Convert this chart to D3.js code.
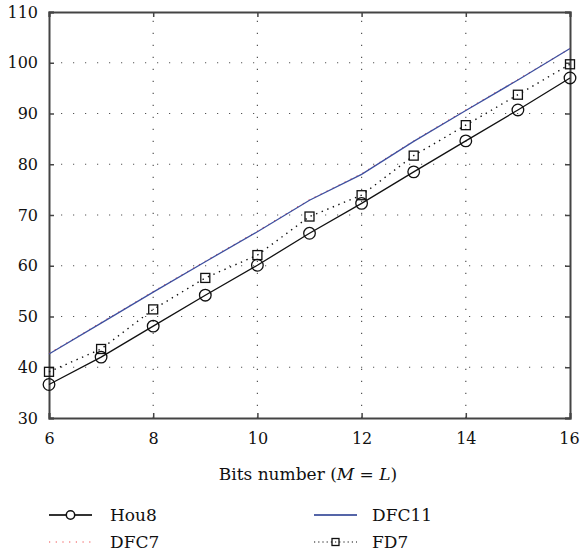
<!DOCTYPE html>
<html>
<head>
<meta charset="utf-8">
<script src="https://cdn.jsdelivr.net/npm/d3@7"></script>
<style>
  body { margin: 0; background: #fff; }
</style>
</head>
<body>
<svg id="chart" width="580" height="552"></svg>
<script>
const bits = [6, 7, 8, 9, 10, 11, 12, 13, 14, 15, 16];
const hou8 = [36.6, 42.0, 48.1, 54.2, 60.1, 66.4, 72.3, 78.5, 84.6, 90.7, 97.0];
const dfc7 = [42.7, 48.8, 54.9, 60.9, 66.8, 73.0, 78.1, 84.6, 90.7, 96.7, 102.8];
const dfc11 = [42.6, 48.7, 54.8, 60.8, 66.7, 72.9, 78.0, 84.5, 90.6, 96.6, 102.8];
const fd7 = [39.1, 43.6, 51.4, 57.6, 62.1, 69.7, 73.9, 81.7, 87.7, 93.7, 99.7];
const xTicks = [6, 8, 10, 12, 14, 16];
const yTicks = [30, 40, 50, 60, 70, 80, 90, 100, 110];

const svg = d3.select("#chart");
const plotLeft = 49, plotRight = 570, plotTop = 12, plotBottom = 418;
const serif = "'DejaVu Serif', 'Liberation Serif', 'Times New Roman', serif";

const x = d3.scaleLinear().domain([6, 16]).range([plotLeft, plotRight]);
const y = d3.scaleLinear().domain([30, 110]).range([plotBottom, plotTop]);

// grid
const grid = svg.append("g")
    .attr("stroke", "#555")
    .attr("stroke-width", 1.2)
    .attr("stroke-dasharray", "1.2,10.8");
grid.selectAll("line.v")
    .data(xTicks.slice(1, -1))
    .enter().append("line")
    .attr("x1", d => x(d)).attr("x2", d => x(d))
    .attr("y1", plotBottom).attr("y2", plotTop);
grid.selectAll("line.h")
    .data(yTicks.slice(1, -1))
    .enter().append("line")
    .attr("x1", plotLeft).attr("x2", plotRight)
    .attr("y1", d => y(d)).attr("y2", d => y(d));

// axes with inward ticks
const axisColor = "#444";
const bottomAxis = svg.append("g").attr("transform", `translate(0,${plotBottom})`)
    .call(d3.axisBottom(x).tickValues(xTicks).tickSize(-5).tickPadding(15));
const topAxis = svg.append("g").attr("transform", `translate(0,${plotTop})`)
    .call(d3.axisTop(x).tickValues(xTicks).tickSize(-5).tickFormat(""));
const leftAxis = svg.append("g").attr("transform", `translate(${plotLeft},0)`)
    .call(d3.axisLeft(y).tickValues(yTicks).tickSize(-5).tickPadding(11));
const rightAxis = svg.append("g").attr("transform", `translate(${plotRight},0)`)
    .call(d3.axisRight(y).tickValues(yTicks).tickSize(-5).tickFormat(""));

[bottomAxis, topAxis, leftAxis, rightAxis].forEach(a => {
    a.attr("font-family", serif).attr("font-size", 16);
    a.select(".domain").attr("stroke", axisColor).attr("stroke-width", 2);
    a.selectAll(".tick line").attr("stroke", axisColor).attr("stroke-width", 1.5);
    a.selectAll("text").attr("fill", "#111");
});
// keep the last x label inside the window
bottomAxis.selectAll(".tick text").filter(d => d === 16).attr("dx", -1);

const line = d3.line().x((d, i) => x(bits[i])).y(d => y(d));

// DFC7 (red dotted), under DFC11
svg.append("path").datum(dfc7)
    .attr("d", line).attr("fill", "none")
    .attr("stroke", "#f04a4a").attr("stroke-width", 1.2)
    .attr("stroke-dasharray", "1.2,5.5");

svg.append("path").datum(dfc11)
    .attr("d", line).attr("fill", "none")
    .attr("stroke", "#3d4f9f").attr("stroke-width", 1.3);

svg.append("path").datum(fd7)
    .attr("d", line).attr("fill", "none")
    .attr("stroke", "#111").attr("stroke-width", 1.4)
    .attr("stroke-dasharray", "1.4,4.6");

svg.append("path").datum(hou8)
    .attr("d", line).attr("fill", "none")
    .attr("stroke", "#111").attr("stroke-width", 1.3);

svg.append("g").selectAll("rect")
    .data(fd7)
    .enter().append("rect")
    .attr("x", (d, i) => x(bits[i]) - 4.5)
    .attr("y", d => y(d) - 4.5)
    .attr("width", 9).attr("height", 9)
    .attr("fill", "none").attr("stroke", "#111").attr("stroke-width", 1.3);

svg.append("g").selectAll("circle")
    .data(hou8)
    .enter().append("circle")
    .attr("cx", (d, i) => x(bits[i]))
    .attr("cy", d => y(d))
    .attr("r", 5.8)
    .attr("fill", "none").attr("stroke", "#111").attr("stroke-width", 1.3);

// x label
const xl = svg.append("text")
    .attr("x", 308).attr("y", 480)
    .attr("text-anchor", "middle")
    .attr("font-family", serif).attr("font-size", 17)
    .attr("fill", "#111");
xl.append("tspan").text("Bits number (");
xl.append("tspan").attr("font-style", "italic").text("M");
xl.append("tspan").text(" = ");
xl.append("tspan").attr("font-style", "italic").text("L");
xl.append("tspan").text(")");

// legend
const legend = [
    { name: "Hou8", lx: 49, ly: 521, color: "#333", dash: null, mark: "circle" },
    { name: "DFC7", lx: 49, ly: 548, color: "#f04a4a", dash: "1.2,5.5", mark: null },
    { name: "DFC11", lx: 314, ly: 521, color: "#5565a8", dash: null, mark: null },
    { name: "FD7", lx: 314, ly: 548, color: "#111", dash: "1.2,3", mark: "rect" }
];
const lg = svg.append("g").selectAll("g")
    .data(legend)
    .enter().append("g")
    .attr("transform", d => `translate(${d.lx},${d.ly})`);
lg.append("line")
    .attr("x1", 0).attr("x2", 43).attr("y1", -6).attr("y2", -6)
    .attr("stroke", d => d.color).attr("stroke-width", d => d.dash ? 1.2 : 2)
    .attr("stroke-dasharray", d => d.dash);
lg.filter(d => d.mark === "circle").append("circle")
    .attr("cx", 21.5).attr("cy", -6).attr("r", 4.2)
    .attr("fill", "#fff").attr("stroke", "#111").attr("stroke-width", 1.5);
lg.filter(d => d.mark === "rect").append("rect")
    .attr("x", 21.5 - 3.5).attr("y", -9.5).attr("width", 7).attr("height", 7)
    .attr("fill", "none").attr("stroke", "#111").attr("stroke-width", 1.3);
lg.append("text")
    .attr("x", d => d.lx < 100 ? 61 : 58).attr("y", 0)
    .attr("font-family", serif).attr("font-size", 17)
    .attr("fill", "#111")
    .text(d => d.name);
</script>
</body>
</html>
